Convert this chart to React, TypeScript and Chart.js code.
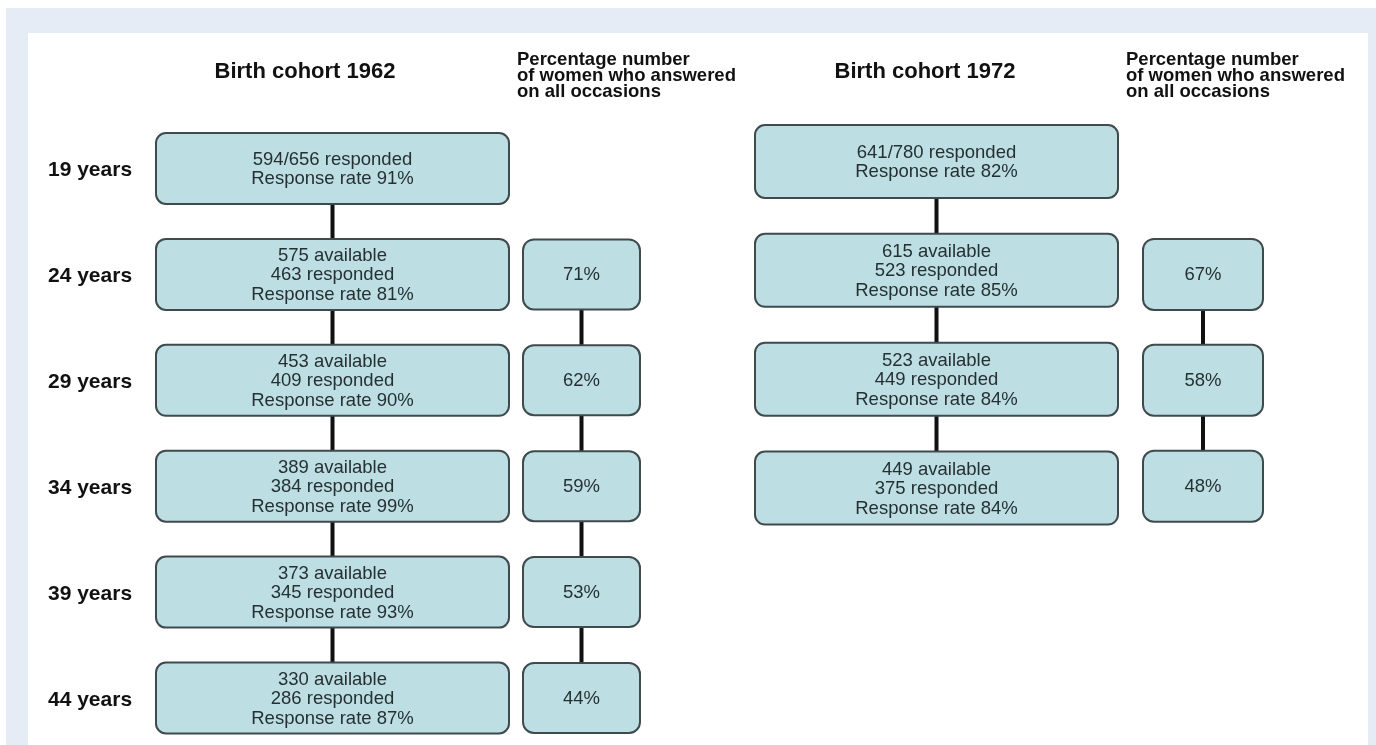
import React, { useEffect, useRef } from "react";
import { Chart, registerables } from "chart.js";

Chart.register(...registerables);

// ---------- data ----------
const AGES = ["19 years", "24 years", "29 years", "34 years", "39 years", "44 years"];
const COHORTS = ["Birth cohort 1962", "Birth cohort 1972"];
const PCT_HEADER = ["Percentage number", "of women who answered", "on all occasions"];
const COLUMN_KEYS = ["cohort1962", "all1962", "cohort1972", "all1972"];

const BASE_1962 = [656, 575, 453, 389, 373, 330];
const RESPONDED_1962 = [594, 463, 409, 384, 345, 286];
const RATE_1962 = [91, 81, 90, 99, 93, 87];
const ALL_OCC_1962 = [null, 71, 62, 59, 53, 44];

const BASE_1972 = [780, 615, 523, 449];
const RESPONDED_1972 = [641, 523, 449, 375];
const RATE_1972 = [82, 85, 84, 84];
const ALL_OCC_1972 = [null, 67, 58, 48];

// ---------- styles / layout ----------
const FONT = "'Liberation Sans', Arial, Helvetica, sans-serif";
const COL_NUDGE = [32, -24, 26, -12.5];
const BOX_W = [353, 117, 363, 120];
const BOX_H = [71, 70, 73, 71];
const BOX_R = [10, 11, 10, 11];
const HEADER_DX = [-27.5, -64.5, -11.5, -77];
const BOX_FILL = "#bddfe4";
const BOX_STROKE = "#3f4a4d";
const TEXT_COLOR = "#263033";
const Y2_MIN = 0.0643;
const Y2_MAX = 4.929;

function mainLines(base: number[], resp: number[], rate: number[], i: number): string[] {
  if (i === 0) return [`${resp[0]}/${base[0]} responded`, `Response rate ${rate[0]}%`];
  return [`${base[i]} available`, `${resp[i]} responded`, `Response rate ${rate[i]}%`];
}

function buildDatasets() {
  const d0: any[] = [], t0: string[][] = [];
  AGES.forEach((age, i) => {
    d0.push({ x: COLUMN_KEYS[0], y: age });
    t0.push(mainLines(BASE_1962, RESPONDED_1962, RATE_1962, i));
  });
  const d1: any[] = [], t1: string[][] = [];
  ALL_OCC_1962.forEach((v, i) => {
    if (v == null) return;
    d1.push({ x: COLUMN_KEYS[1], y: AGES[i] });
    t1.push([`${v}%`]);
  });
  const d2: any[] = [], t2: string[][] = [];
  RESPONDED_1972.forEach((_, i) => {
    d2.push({ x: COLUMN_KEYS[2], y: i });
    t2.push(mainLines(BASE_1972, RESPONDED_1972, RATE_1972, i));
  });
  const d3: any[] = [], t3: string[][] = [];
  ALL_OCC_1972.forEach((v, i) => {
    if (v == null) return;
    d3.push({ x: COLUMN_KEYS[3], y: AGES[i] });
    t3.push([`${v}%`]);
  });
  const common = { showLine: false, pointRadius: 0, pointHoverRadius: 0, borderWidth: 0 };
  return [
    { ...common, label: COHORTS[0], data: d0, texts: t0, col: 0, yAxisID: "y" },
    { ...common, label: "all 1962", data: d1, texts: t1, col: 1, yAxisID: "y" },
    { ...common, label: COHORTS[1], data: d2, texts: t2, col: 2, yAxisID: "y2" },
    { ...common, label: "all 1972", data: d3, texts: t3, col: 3, yAxisID: "y" },
  ];
}

const flowPlugin = {
  id: "flow",
  beforeDraw(chart: any) {
    const ctx = chart.ctx;
    const W = chart.width, H = chart.height;
    ctx.save();
    ctx.fillStyle = "#ffffff";
    ctx.fillRect(0, 0, W, H);
    ctx.fillStyle = "#e5ecf6";
    ctx.fillRect(6, 8, W - 6, H - 8);
    ctx.fillStyle = "#ffffff";
    ctx.fillRect(28, 33, W - 8 - 28, H - 33);
    ctx.restore();
  },
  afterDatasetsDraw(chart: any) {
    const ctx = chart.ctx;
    const xScale = chart.scales.x;
    chart.data.datasets.forEach((ds: any, di: number) => {
      const meta = chart.getDatasetMeta(di);
      const c = ds.col;
      const pts = meta.data.map((el: any) => ({ x: el.x + COL_NUDGE[c], y: el.y }));
      ctx.save();
      ctx.strokeStyle = "#111111";
      ctx.lineWidth = 4;
      ctx.beginPath();
      for (let k = 0; k < pts.length - 1; k++) {
        ctx.moveTo(pts[k].x, pts[k].y);
        ctx.lineTo(pts[k + 1].x, pts[k + 1].y);
      }
      ctx.stroke();
      pts.forEach((p: any, k: number) => {
        const w = BOX_W[c], h = BOX_H[c];
        ctx.beginPath();
        ctx.roundRect(p.x - w / 2, p.y - h / 2, w, h, BOX_R[c]);
        ctx.fillStyle = BOX_FILL;
        ctx.fill();
        ctx.lineWidth = 2;
        ctx.strokeStyle = BOX_STROKE;
        ctx.stroke();
        const lines: string[] = ds.texts[k];
        ctx.fillStyle = TEXT_COLOR;
        ctx.font = `18.5px ${FONT}`;
        ctx.textAlign = "center";
        ctx.textBaseline = "middle";
        lines.forEach((t, j) => {
          ctx.fillText(t, p.x, p.y + (j - (lines.length - 1) / 2) * 19.5 + 1);
        });
      });
      ctx.restore();
    });
    // headers
    ctx.save();
    ctx.fillStyle = "#111111";
    ctx.textBaseline = "alphabetic";
    [0, 2].forEach((c, i) => {
      const x = xScale.getPixelForValue(c) + COL_NUDGE[c] + HEADER_DX[c];
      ctx.font = `bold 22px ${FONT}`;
      ctx.textAlign = "center";
      ctx.fillText(COHORTS[i], x, 78);
    });
    [1, 3].forEach((c) => {
      const x = xScale.getPixelForValue(c) + COL_NUDGE[c] + HEADER_DX[c];
      ctx.font = `bold 18.5px ${FONT}`;
      ctx.textAlign = "left";
      PCT_HEADER.forEach((t, j) => ctx.fillText(t, x, 65 + j * 16));
    });
    ctx.restore();
  },
};

export default function App() {
  const ref = useRef<HTMLCanvasElement | null>(null);
  useEffect(() => {
    if (!ref.current) return;
    const chart = new Chart(ref.current, {
      type: "line",
      data: { datasets: buildDatasets() as any },
      options: {
        animation: false,
        responsive: false,
        devicePixelRatio: 1,
        events: [],
        layout: { padding: { left: 48, right: 8, top: 168.5, bottom: 47 } },
        plugins: { legend: { display: false }, tooltip: { enabled: false } },
        scales: {
          x: {
            type: "category",
            labels: COLUMN_KEYS,
            offset: true,
            display: false,
          },
          y: {
            type: "category",
            labels: AGES,
            offset: false,
            position: "left",
            grid: { display: false, drawTicks: false },
            border: { display: false },
            ticks: {
              color: "#111111",
              font: { family: FONT, size: 21, weight: "bold" },
              crossAlign: "far",
              padding: 0,
              labelOffset: 2,
              autoSkip: false,
            },
            afterFit: (axis: any) => {
              axis.width = 100;
            },
          },
          y2: {
            type: "linear",
            display: false,
            reverse: true,
            min: Y2_MIN,
            max: Y2_MAX,
          },
        },
      } as any,
      plugins: [flowPlugin],
    });
    return () => chart.destroy();
  }, []);
  return (
    <div style={{ position: "fixed", left: 0, top: 0, width: 1376, height: 745 }}>
      <canvas ref={ref} width={1376} height={745} style={{ display: "block", width: 1376, height: 745 }} />
    </div>
  );
}
